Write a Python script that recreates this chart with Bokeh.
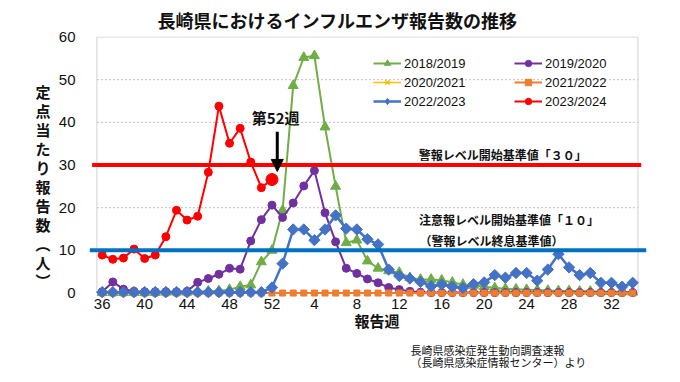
from bokeh.plotting import figure
from bokeh.models import (Range1d, FixedTicker, Label, Legend, LegendItem,
                          Arrow, NormalHead, ColumnDataSource, LinearAxis, Title)
from bokeh.embed import file_html
from bokeh.resources import INLINE

# ---------------- data ----------------
weeks = [36, 37, 38, 39, 40, 41, 42, 43, 44, 45, 46, 47, 48, 49, 50, 51, 52,
         1, 2, 3, 4, 5, 6, 7, 8, 9, 10, 11, 12, 13, 14, 15, 16, 17, 18, 19, 20,
         21, 22, 23, 24, 25, 26, 27, 28, 29, 30, 31, 32, 33, 34]
tick_weeks = [36, 40, 44, 48, 52, 4, 8, 12, 16, 20, 24, 28, 32]
y_ticks = [0, 10, 20, 30, 40, 50, 60]

s1819 = [0.1, 0.1, 0.1, 0.1, 0.1, 0.1, 0.2, 0.2, 0.2, 0.3, 0.4, 0.5, 0.8,
         1.5, 1.9, 7.3, 10.0, 19.4, 48.6, 55.2, 55.6, 38.9, 25.0, 11.8, 12.4,
         7.5, 5.8, 5.2, 4.8, 3.6, 3.2, 3.2, 3.0, 2.5, 2.0, 1.8, 1.5, 1.2, 1.0,
         0.9, 0.8, 0.7, 0.6, 0.5, 0.5, 0.4, 0.4, 0.3, 0.3, 0.3, 0.2]
s1920 = [0.3, 2.6, 0.9, 0.4, 0.3, 0.3, 0.3, 0.3, 0.4, 2.5, 3.4, 4.4, 5.8, 5.6,
         12.2, 17.2, 20.6, 17.7, 21.1, 25.1, 28.7, 18.8, 12.0, 5.8, 4.6, 3.3,
         2.4, 1.3, 0.8, 0.4, 0.2, 0.1, 0.1, 0.1, 0.1, 0.1, 0.1, 0.1, 0.1, 0.1,
         0.1, 0.1, 0.1, 0.1, 0.1, 0.1, 0.1, 0.1, 0.1, 0.1, 0.1]
s2021 = [0.0, 0.0, 0.0, 0.0, 0.0, 0.0, 0.0, 0.0, 0.0, 0.0, 0.0, 0.0, 0.0, 0.0,
         0.0, 0.0, 0.0, 0.0, 0.0, 0.0, 0.0, 0.0, 0.0, 0.0, 0.0, 0.0, 0.0, 0.0,
         0.0, 0.0, 0.0, 0.0, 0.0, 0.0, 0.0, 0.0, 0.0, 0.0, 0.0, 0.0, 0.0, 0.0,
         0.0, 0.0, 0.0, 0.0, 0.0, 0.0, 0.0, 0.0, 0.0]
s2122 = [0.0, 0.0, 0.0, 0.0, 0.0, 0.0, 0.0, 0.0, 0.0, 0.0, 0.0, 0.0, 0.0, 0.0,
         0.0, 0.0, 0.0, 0.0, 0.0, 0.0, 0.0, 0.0, 0.0, 0.0, 0.0, 0.0, 0.0, 0.0,
         0.0, 0.0, 0.0, 0.0, 0.0, 0.0, 0.0, 0.0, 0.0, 0.0, 0.0, 0.0, 0.0, 0.0,
         0.0, 0.0, 0.0, 0.0, 0.0, 0.0, 0.0, 0.0, 0.0]
s2223 = [0.2, 0.2, 0.2, 0.2, 0.2, 0.2, 0.2, 0.2, 0.2, 0.2, 0.2, 0.2, 0.2, 0.2,
         0.2, 0.2, 1.3, 6.9, 14.9, 14.9, 12.4, 14.9, 18.2, 15.1, 14.9, 12.6,
         11.4, 5.5, 4.0, 3.4, 2.6, 1.6, 2.0, 1.5, 1.2, 2.1, 2.5, 4.2, 3.6, 4.7,
         4.7, 2.9, 5.5, 9.1, 6.0, 4.2, 4.7, 2.4, 2.4, 1.5, 2.4]
s2324 = [8.9, 7.9, 8.2, 10.3, 8.1, 8.9, 13.2, 19.4, 17.1, 18.0, 28.3, 43.8,
         35.1, 38.6, 30.7, 24.7, 26.6]

alert_level = 30
warning_level = 10

# ---------------- figure ----------------
JP = "Noto Sans CJK JP"
NUM = "Liberation Sans"
TXT = "#111111"

xs = list(range(len(weeks)))
tick_pos = [weeks.index(w) if w >= 36 else weeks.index(w, 17) for w in tick_weeks]

p = figure(width=664, height=382,
           x_range=Range1d(-1.2925, 51.3), y_range=Range1d(-1.28, 60.12),
           output_backend="svg", toolbar_location=None,
           min_border_left=88, min_border_right=18,
           min_border_top=34, min_border_bottom=84)
p.outline_line_color = None
p.xgrid.visible = False
p.ygrid.visible = False
p.background_fill_color = "white"
p.border_fill_color = "white"

# title
p.title.text = "長崎県におけるインフルエンザ報告数の推移"
p.title.align = "left"
p.title.offset = 69
p.title.vertical_align = "bottom"
p.title.standoff = 8
p.title.text_font = JP
p.title.text_font_size = "18px"
p.title.text_font_style = "bold"
p.title.text_color = TXT

# axes
xa = p.xaxis[0]
xa.ticker = FixedTicker(ticks=tick_pos)
xa.major_label_overrides = {pos: str(w) for pos, w in zip(tick_pos, tick_weeks)}
xa.axis_line_color = None
xa.major_tick_line_color = None
xa.minor_tick_line_color = None
xa.major_tick_out = 0
xa.minor_tick_out = 0
xa.major_label_standoff = 0
xa.major_label_text_font = NUM
xa.major_label_text_font_size = "15px"
xa.major_label_text_color = TXT

ya = p.yaxis[0]
ya.ticker = FixedTicker(ticks=y_ticks)
ya.axis_line_color = None
ya.major_tick_line_color = None
ya.minor_tick_line_color = None
ya.major_tick_out = 0
ya.minor_tick_out = 0
ya.major_label_standoff = 13
ya.major_label_text_font = NUM
ya.major_label_text_font_size = "15px"
ya.major_label_text_color = TXT

# vertical y-axis label (stacked characters)
ylab = LinearAxis(ticker=FixedTicker(ticks=[]),
                  axis_label="\n\n定\n点\n当\nた\nり\n報\n告\n数\n︵\n人\n︶",
                  axis_label_orientation="horizontal",
                  axis_line_color=None, major_tick_line_color=None,
                  minor_tick_line_color=None, major_tick_out=0, minor_tick_out=0,
                  major_label_standoff=0, axis_label_standoff=5,
                  axis_label_text_font=JP, axis_label_text_font_size="15px",
                  axis_label_text_font_style="bold", axis_label_text_color=TXT,
                  axis_label_text_line_height=0.9)
p.add_layout(ylab, "left")

# texts below the x axis
p.add_layout(Title(text="報告週", align="left", offset=266, vertical_align="top",
                   standoff=-3.5, text_font=JP, text_font_size="15px",
                   text_font_style="bold", text_color=TXT), "below")
p.add_layout(Title(text="長崎県感染症発生動向調査速報\n（長崎県感染症情報センター）より",
                   align="left", offset=322, vertical_align="top", standoff=20,
                   text_font=JP, text_font_size="11px", text_font_style="normal",
                   text_color=TXT, text_line_height=0.75), "below")

# grid lines (dotted) and plot border
p.segment(x0=-0.5, x1=len(weeks) - 0.5, y0=y_ticks[1:-1], y1=y_ticks[1:-1],
          line_color="#BFBFBF", line_width=1, line_dash="2 2")
p.quad(left=-0.5, right=len(weeks) - 0.5, bottom=0, top=60,
       fill_color=None, line_color="#D0D0D0", line_width=1)

# series
def series(y, color, marker, size, lw, angle=0.0, line_w=1):
    src = ColumnDataSource(dict(x=xs[:len(y)], y=y))
    l = p.line("x", "y", source=src, line_color=color, line_width=lw)
    s = p.scatter("x", "y", source=src, marker=marker, size=size,
                  fill_color=color, line_color=color, angle=angle,
                  line_width=line_w)
    return [l, s]

r1819 = series(s1819, "#70AD47", "triangle", 10, 2)
r1920 = series(s1920, "#7030A0", "circle", 8, 2)
r2021 = series(s2021, "#FFC000", "x", 7, 1.5, line_w=1.5)
r2122 = series(s2122, "#ED7D31", "square", 6, 2)
r2223 = series(s2223, "#4472C4", "square", 8, 2.5, angle=0.785398)
r2324 = series(s2324, "#FF0000", "circle", 8, 2)
p.scatter([xs[len(s2324) - 1]], [s2324[-1]], marker="circle", size=12,
          fill_color="#FF0000", line_color="#FF0000")
# hidden diamond renderer used only for the legend symbol
leg_diamond = p.scatter(x=xs, y=s2223, marker="diamond", size=14,
                        fill_color="#4472C4", line_color="#4472C4", visible=False)

# threshold lines
p.segment(x0=-0.95, x1=50.8, y0=alert_level, y1=alert_level,
          line_color="#FF0000", line_width=4)
p.segment(x0=-1.17, x1=51.3, y0=warning_level, y1=warning_level,
          line_color="#0070C0", line_width=4)

# legends
def mk_legend(items, loc):
    return Legend(items=items, location=loc, orientation="vertical",
                  background_fill_alpha=0, border_line_alpha=0, padding=0,
                  margin=0, spacing=3, glyph_width=28, glyph_height=16,
                  label_height=16, label_standoff=3,
                  label_text_font=NUM, label_text_font_size="13px",
                  label_text_color=TXT, inactive_fill_alpha=0)

leg1 = mk_legend([LegendItem(label="2018/2019", renderers=r1819),
                  LegendItem(label="2020/2021", renderers=r2021),
                  LegendItem(label="2022/2023", renderers=[r2223[0], leg_diamond])],
                 (285, 189))
leg2 = mk_legend([LegendItem(label="2019/2020", renderers=r1920),
                  LegendItem(label="2021/2022", renderers=r2122),
                  LegendItem(label="2023/2024", renderers=r2324)], (426, 189))
p.add_layout(leg1, "center")
p.add_layout(leg2, "center")

# annotations inside the frame
def lab(text, x, y, size):
    p.add_layout(Label(text=text, x=x, y=y, text_font=JP,
                       text_font_size=size, text_font_style="bold",
                       text_align="center", text_baseline="middle",
                       text_color=TXT))

lab("第52週", 16.35, 41.05, "15px")
lab("警報レベル開始基準値「３０」", 37.76, 32.4, "12px")
lab("注意報レベル開始基準値「１０」", 38.33, 17.3, "12px")
lab("（警報レベル終息基準値）", 36.7, 12.4, "12px")

p.add_layout(Arrow(end=NormalHead(size=12, fill_color="black", line_color="black"),
                   x_start=16.5, y_start=37.8, x_end=16.5, y_end=28.5,
                   line_width=3, line_color="black"))

open("out.html", "w").write(file_html(p, INLINE))
